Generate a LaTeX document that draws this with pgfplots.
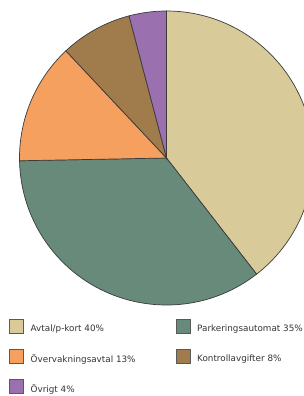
\documentclass[border=0pt]{standalone}
\usepackage{fontspec}
\setmainfont{DejaVu Sans}
\usepackage{pgfplots}
\pgfplotsset{compat=1.18}
\definecolor{cA}{HTML}{D9CA9A}
\definecolor{cB}{HTML}{678A7A}
\definecolor{cC}{HTML}{F5A05E}
\definecolor{cD}{HTML}{A07C4C}
\definecolor{cE}{HTML}{9B70AE}
\definecolor{edge}{HTML}{3A3A3A}
\definecolor{txt}{HTML}{333333}
\begin{document}
\begin{tikzpicture}[x=1pt,y=1pt]
\path[use as bounding box] (0,0) rectangle (304,-396);
\begin{axis}[
  at={(166.5pt,-158pt)}, anchor=origin,
  scale only axis, width=294pt, height=294pt,
  xmin=-1, xmax=1, ymin=-1, ymax=1,
  hide axis, clip=false,
  legend columns=2,
  legend cell align=left,
  legend image code/.code={\draw[#1, draw=gray!70!black, line width=0.5pt] (0pt,-4pt) rectangle (14pt,10pt);},
  legend style={at={(-0.0357,-0.047)}, anchor=north west, draw=none, fill=none, inner sep=0pt,
    font=\fontsize{8.8}{10.5}\selectfont, text=txt, row sep=13.5pt},
]
\addlegendimage{fill=cA}\addlegendentry{\hspace*{5pt}\makebox[143pt][l]{Avtal/p-kort 40\%}}
\addlegendimage{fill=cB}\addlegendentry{\hspace*{5pt}Parkeringsautomat 35\%}
\addlegendimage{fill=cC}\addlegendentry{\hspace*{5pt}\makebox[143pt][l]{Övervakningsavtal 13\%}}
\addlegendimage{fill=cD}\addlegendentry{\hspace*{5pt}Kontrollavgifter 8\%}
\addlegendimage{fill=cE}\addlegendentry{\hspace*{5pt}\makebox[143pt][l]{Övrigt 4\%}}
\pgfplotsextra{
  \xdef\cum{90}
  \foreach \v/\c in {39.5/cA,35.2/cB,13.3/cC,7.9/cD,4.1/cE} {
    \pgfmathsetmacro\e{\cum-3.6*\v}
    \filldraw[fill=\c, draw=edge, line width=0.7pt] (axis cs:0,0) -- ++(\cum:147pt) arc[start angle=\cum, end angle=\e, radius=147pt] -- cycle;
    \xdef\cum{\e}
  }
}
\end{axis}
\end{tikzpicture}
\end{document}
